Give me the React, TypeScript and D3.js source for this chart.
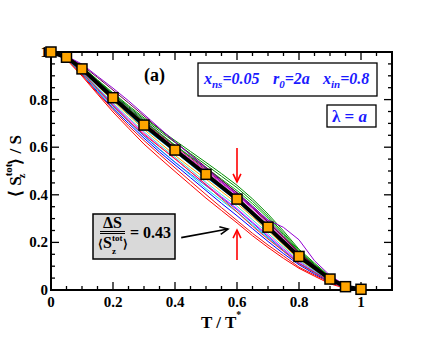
import * as d3 from "d3";
import React from "react";

const W = 443;
const H = 342;
const plot = { left: 51, right: 392, top: 52, bottom: 290 };

// temperature grid of the individual runs
const tGrid = [0, 0.05, 0.1, 0.15, 0.2, 0.25, 0.3, 0.35, 0.4, 0.45, 0.5, 0.55, 0.6, 0.65, 0.7, 0.75, 0.8, 0.85, 0.9, 0.95, 1.0];

// individual samples
const runViolet = [1.0, 0.983, 0.949, 0.898, 0.848, 0.795, 0.738, 0.68, 0.623, 0.567, 0.511, 0.454, 0.402, 0.348, 0.294, 0.263, 0.211, 0.123, 0.061, 0.019, 0.003];
const runGreen = [1.0, 0.981, 0.939, 0.883, 0.828, 0.775, 0.723, 0.675, 0.628, 0.582, 0.536, 0.489, 0.44, 0.383, 0.319, 0.248, 0.171, 0.113, 0.056, 0.018, 0.003];
const runRed = [1.0, 0.968, 0.899, 0.823, 0.748, 0.68, 0.613, 0.555, 0.498, 0.442, 0.386, 0.334, 0.282, 0.228, 0.179, 0.133, 0.091, 0.058, 0.026, 0.007, 0.003];
const runRed2 = [1.0, 0.97, 0.904, 0.828, 0.758, 0.69, 0.628, 0.57, 0.513, 0.457, 0.401, 0.346, 0.292, 0.238, 0.189, 0.143, 0.096, 0.063, 0.031, 0.009, 0.003];
const runBlue = [1.0, 0.972, 0.909, 0.833, 0.763, 0.7, 0.638, 0.58, 0.526, 0.472, 0.418, 0.364, 0.312, 0.258, 0.204, 0.153, 0.106, 0.068, 0.034, 0.01, 0.003];
const runCyan = [1.0, 0.973, 0.911, 0.838, 0.77, 0.708, 0.648, 0.592, 0.538, 0.482, 0.426, 0.376, 0.327, 0.273, 0.219, 0.163, 0.111, 0.073, 0.036, 0.011, 0.003];
const runMagenta = [1.0, 0.974, 0.917, 0.848, 0.78, 0.718, 0.658, 0.604, 0.55, 0.497, 0.444, 0.392, 0.342, 0.285, 0.23, 0.173, 0.119, 0.078, 0.038, 0.011, 0.003];
const runTurquoise = [1.0, 0.975, 0.919, 0.852, 0.786, 0.724, 0.665, 0.61, 0.558, 0.505, 0.452, 0.401, 0.352, 0.295, 0.238, 0.181, 0.123, 0.081, 0.04, 0.012, 0.003];
const runOrange = [1.0, 0.976, 0.923, 0.858, 0.794, 0.734, 0.675, 0.62, 0.566, 0.515, 0.466, 0.414, 0.364, 0.307, 0.249, 0.189, 0.129, 0.085, 0.042, 0.013, 0.003];
const runIndigo = [1.0, 0.98, 0.935, 0.878, 0.822, 0.766, 0.711, 0.66, 0.608, 0.559, 0.51, 0.46, 0.41, 0.353, 0.292, 0.227, 0.159, 0.105, 0.052, 0.016, 0.003];
const runMaroon = [1.0, 0.982, 0.944, 0.893, 0.84, 0.786, 0.731, 0.676, 0.622, 0.569, 0.516, 0.462, 0.408, 0.347, 0.286, 0.223, 0.157, 0.103, 0.051, 0.016, 0.003];
const runGreen4 = [1.0, 0.98, 0.937, 0.88, 0.824, 0.77, 0.717, 0.668, 0.62, 0.573, 0.526, 0.478, 0.43, 0.373, 0.31, 0.239, 0.166, 0.108, 0.054, 0.017, 0.003];
const runBrown = [1.0, 0.979, 0.933, 0.874, 0.816, 0.76, 0.705, 0.654, 0.604, 0.555, 0.504, 0.454, 0.402, 0.345, 0.284, 0.221, 0.155, 0.102, 0.05, 0.015, 0.003];
const runBlue2 = [1.0, 0.975, 0.917, 0.846, 0.776, 0.71, 0.647, 0.59, 0.536, 0.487, 0.438, 0.388, 0.337, 0.281, 0.224, 0.167, 0.113, 0.075, 0.037, 0.011, 0.003];
const runMagenta2 = [1.0, 0.979, 0.932, 0.872, 0.813, 0.756, 0.701, 0.65, 0.598, 0.549, 0.5, 0.449, 0.398, 0.341, 0.28, 0.215, 0.149, 0.098, 0.048, 0.014, 0.003];
const runCyan2 = [1.0, 0.976, 0.924, 0.86, 0.798, 0.738, 0.681, 0.63, 0.58, 0.527, 0.474, 0.424, 0.374, 0.313, 0.252, 0.193, 0.133, 0.088, 0.043, 0.013, 0.003];
const runLime = [1.0, 0.98, 0.934, 0.876, 0.818, 0.762, 0.708, 0.658, 0.608, 0.561, 0.514, 0.466, 0.418, 0.363, 0.302, 0.233, 0.161, 0.105, 0.052, 0.016, 0.003];
const runRed3 = [1.0, 0.974, 0.914, 0.843, 0.773, 0.71, 0.653, 0.602, 0.552, 0.497, 0.442, 0.384, 0.328, 0.268, 0.214, 0.163, 0.111, 0.073, 0.036, 0.011, 0.003];

const runs = [runRed, runRed2, runBlue, runCyan, runMagenta, runBlue2, runRed3, runTurquoise, runCyan2, runOrange, runBrown, runMagenta2, runIndigo, runLime, runGreen4, runMaroon, runGreen, runViolet];
const runColors = ["#ff0000", "#ee1010", "#0000ff", "#00e5ee", "#ff00ff", "#2050ff", "#ff2020", "#40e0d0", "#00bfff", "#ffa500", "#a52a2a", "#e000e0", "#4b0082", "#00c000", "#008b00", "#670748", "#009000", "#9400d3"];

// averaged curve (squares)
const meanT = [0, 0.05, 0.1, 0.2, 0.3, 0.4, 0.5, 0.6, 0.7, 0.8, 0.9, 0.95, 1.0];
const meanS = [1.0, 0.978, 0.929, 0.808, 0.693, 0.588, 0.486, 0.382, 0.264, 0.141, 0.046, 0.014, 0.003];

const xTicks = [0, 0.2, 0.4, 0.6, 0.8, 1];
const xTickLabels = ["0", "0.2", "0.4", "0.6", "0.8", "1"];
const yTicks = [0, 0.2, 0.4, 0.6, 0.8, 1];
const yTickLabels = ["0", "0.2", "0.4", "0.6", "0.8", "1"];

const serif = "'Liberation Serif', 'Times New Roman', serif";

function Arrow({ x1, y1, x2, y2, color }: { x1: number; y1: number; x2: number; y2: number; color: string }) {
  const a = Math.atan2(y2 - y1, x2 - x1);
  const L = 9;
  const s = 0.45;
  const p1 = [x2 - L * Math.cos(a - s), y2 - L * Math.sin(a - s)];
  const p2 = [x2 - L * Math.cos(a + s), y2 - L * Math.sin(a + s)];
  return (
    <g stroke={color} strokeWidth={1.6} fill="none">
      <line x1={x1} y1={y1} x2={x2} y2={y2} />
      <polyline points={`${p1[0]},${p1[1]} ${x2},${y2} ${p2[0]},${p2[1]}`} />
    </g>
  );
}

export default function App() {
  const x = d3.scaleLinear().domain([0, 1.1]).range([plot.left, plot.right]);
  const y = d3.scaleLinear().domain([0, 1]).range([plot.bottom, plot.top]);

  const line = d3
    .line<[number, number]>()
    .x((d) => x(d[0]))
    .y((d) => y(d[1]));

  const minorX = d3.range(0, 1.1001, 0.05);
  const minorY = d3.range(0, 1.0001, 0.05);

  const major = 8;
  const minor = 4;

  return (
    <svg width={W} height={H} style={{ position: "absolute", left: 0, top: 0, background: "#fff" }} fontFamily={serif}>
      <defs>
        <clipPath id="clip">
          <rect x={plot.left} y={plot.top - 8} width={plot.right - plot.left} height={plot.bottom - plot.top + 8} />
        </clipPath>
      </defs>

      {/* sample curves */}
      <g clipPath="url(#clip)">
        {runs.map((r, i) => (
          <path
            key={i}
            d={line(r.map((v, j) => [tGrid[j], v] as [number, number])) || ""}
            fill="none"
            stroke={runColors[i]}
            strokeWidth={1}
          />
        ))}
      </g>

      {/* mean curve */}
      <path
        d={line(meanS.map((v, j) => [meanT[j], v] as [number, number])) || ""}
        fill="none"
        stroke="#000"
        strokeWidth={4}
      />

      {/* ticks */}
      <g stroke="#000" strokeWidth={1.3}>
        {minorX.map((t, i) => {
          const isMajor = Math.abs(t / 0.2 - Math.round(t / 0.2)) < 1e-6;
          const len = isMajor ? major : minor;
          return (
            <g key={"x" + i}>
              <line x1={x(t)} x2={x(t)} y1={plot.bottom} y2={plot.bottom - len} />
              <line x1={x(t)} x2={x(t)} y1={plot.top} y2={plot.top + len} />
            </g>
          );
        })}
        {minorY.map((t, i) => {
          const isMajor = Math.abs(t / 0.2 - Math.round(t / 0.2)) < 1e-6;
          const len = isMajor ? major : minor;
          return (
            <g key={"y" + i}>
              <line y1={y(t)} y2={y(t)} x1={plot.left} x2={plot.left + len} />
              <line y1={y(t)} y2={y(t)} x1={plot.right} x2={plot.right - len} />
            </g>
          );
        })}
      </g>

      {/* frame */}
      <rect
        x={plot.left}
        y={plot.top}
        width={plot.right - plot.left}
        height={plot.bottom - plot.top}
        fill="none"
        stroke="#000"
        strokeWidth={2}
      />

      {/* tick labels */}
      <g fontSize={15} fontWeight="bold" fill="#000">
        {xTicks.map((t, i) => (
          <text key={"xl" + i} x={x(t)} y={plot.bottom + 17} textAnchor="middle">
            {xTickLabels[i]}
          </text>
        ))}
        {yTicks.map((t, i) => (
          <text key={"yl" + i} x={plot.left - 3} y={y(t) + 5} textAnchor="end">
            {yTickLabels[i]}
          </text>
        ))}
      </g>

      {/* squares */}
      {meanT.map((t, i) => (
        <rect
          key={"sq" + i}
          x={x(t) - 5}
          y={y(meanS[i]) - 5}
          width={10}
          height={10}
          fill="#ffa500"
          stroke="#000"
          strokeWidth={1.5}
        />
      ))}

      {/* axis titles */}
      <text x={201} y={328} fontSize={17} fontWeight="bold">
        T / T<tspan fontSize={10} dy={-10}>*</tspan>
      </text>
      <text transform="translate(21,166) rotate(-90)" textAnchor="middle" fontSize={17} fontWeight="bold">
        {"\u27e8 S"}
        <tspan fontSize={11} dy={-9}>tot</tspan>
        <tspan fontSize={11} dx={-15} dy={13}>z</tspan>
        <tspan dx={9} dy={-4}>{"\u27e9 / S"}</tspan>
      </text>

      {/* panel label */}
      <text x={144} y={81} fontSize={18} fontWeight="bold">(a)</text>

      {/* parameter box */}
      <rect x={198} y={63} width={179} height={33} fill="#fff" stroke="#000" strokeWidth={1.3} />
      <g fill="#1a1aff" fontSize={16} fontWeight="bold" fontStyle="italic">
        <text x={204} y={84}>
          x<tspan fontSize={11} dy={4}>ns</tspan>
          <tspan dy={-4}>=0.05</tspan>
        </text>
        <text x={273} y={84}>
          r<tspan fontSize={11} dy={4}>0</tspan>
          <tspan dy={-4}>=2a</tspan>
        </text>
        <text x={323} y={84}>
          x<tspan fontSize={11} dy={4}>in</tspan>
          <tspan dy={-4}>=0.8</tspan>
        </text>
      </g>

      <rect x={327} y={105} width={49} height={22} fill="#fff" stroke="#000" strokeWidth={1.3} />
      <text x={332} y={122} fontSize={17} fill="#1a1aff" fontWeight="bold">
        {"\u03bb = "}
        <tspan fontStyle="italic">a</tspan>
      </text>

      {/* ratio box */}
      <rect x={93} y={214} width={82} height={45} fill="#d9d9d9" stroke="#000" strokeWidth={1.5} />
      <line x1={100} x2={125} y1={231.5} y2={231.5} stroke="#000" strokeWidth={1} />
      <line x1={100} x2={125} y1={233.5} y2={233.5} stroke="#000" strokeWidth={1} />
      <text fontWeight="bold" fill="#000" fontSize={16}>
        <tspan x={103} y={228}>{"\u0394S"}</tspan>
        <tspan x={98} y={248} fontSize={12}>{"\u27e8"}</tspan>
        <tspan>S</tspan>
        <tspan fontSize={9} dy={-7}>tot</tspan>
        <tspan fontSize={9} x={112} y={254}>z</tspan>
        <tspan fontSize={12} x={123} y={248}>{"\u27e9"}</tspan>
        <tspan x={130} y={238}>= 0.43</tspan>
      </text>

      {/* arrows */}
      <Arrow x1={x(0.42)} y1={y(0.22)} x2={x(0.571)} y2={y(0.256)} color="#000" />
      <Arrow x1={x(0.6)} y1={y(0.597)} x2={x(0.6)} y2={y(0.454)} color="#ff0000" />
      <Arrow x1={x(0.6)} y1={y(0.126)} x2={x(0.6)} y2={y(0.252)} color="#ff0000" />
    </svg>
  );
}
